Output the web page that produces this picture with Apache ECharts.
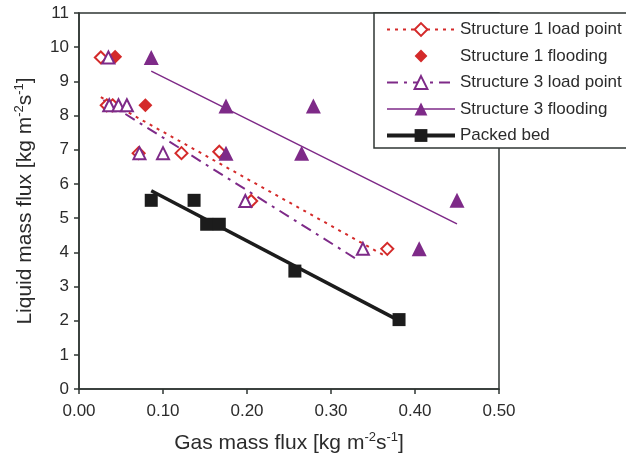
<!DOCTYPE html>
<html>
<head>
<meta charset="utf-8">
<script src="https://cdn.jsdelivr.net/npm/echarts@6/dist/echarts.min.js"></script>
<style>html,body{margin:0;padding:0;background:#fff}#c{width:626px;height:461px}</style>
</head>
<body>
<div id="c"></div>
<script>
// ---- Data ----
var seriesNames = ['Structure 1 load point', 'Structure 1 flooding', 'Structure 3 load point', 'Structure 3 flooding', 'Packed bed'];
var xTicks = [0, 0.1, 0.2, 0.3, 0.4, 0.5];
var yTicks = [0,1,2,3,4,5,6,7,8,9,10,11];

var s1LoadPts = [[0.026, 9.7], [0.033, 8.3], [0.040, 8.3], [0.071, 6.9], [0.122, 6.9], [0.167, 6.94], [0.205, 5.5], [0.367, 4.1]];
var s1FloodPts = [[0.043, 9.72], [0.079, 8.3]];
var s3LoadPts = [[0.035, 9.7], [0.036, 8.3], [0.047, 8.3], [0.057, 8.3], [0.072, 6.9], [0.100, 6.9], [0.198, 5.5], [0.338, 4.1]];
var s3FloodPts = [[0.086, 9.7], [0.175, 8.28], [0.175, 6.9], [0.265, 6.9], [0.279, 8.28], [0.405, 4.1], [0.450, 5.52]];
var packedPts = [[0.086, 5.52], [0.137, 5.52], [0.152, 4.82], [0.167, 4.82], [0.257, 3.45], [0.381, 2.03]];

var s1LoadTrend = [[0.026, 8.54], [0.366, 3.87]];
var s3LoadTrend = [[0.029, 8.45], [0.331, 3.79]];
var s3FloodTrend = [[0.086, 9.3], [0.450, 4.83]];
var packedTrend = [[0.086, 5.8], [0.381, 2.0]];

var RED = '#d42a2a', PURPLE = '#7e2a88', BLACK = '#1c1c1c', AX = '#2f3633', TXT = '#2b2b2b';
var FONT = 'Liberation Sans, Arial, sans-serif';

var chart = echarts.init(document.getElementById('c'), null, {renderer: 'canvas'});
var supRich = {
  n: {fontSize: 21, fontFamily: FONT, color: TXT, lineHeight: 24},
  sup: {fontSize: 13, fontFamily: FONT, color: TXT, verticalAlign: 'top', padding: [0, 0, 10, 0], lineHeight: 24}
};
function trendLine(name, data, color, type, width, symbol, lineOpacity) {
  return {
    name: name, type: 'line', data: data, symbol: symbol, showSymbol: false,
    symbolSize: 12, itemStyle: {color: color, opacity: 1},
    lineStyle: {color: color, type: type, width: width, opacity: lineOpacity == null ? 1 : lineOpacity},
    silent: true, z: 2, animation: false
  };
}
function pts(name, data, color, symbol, size) {
  return {
    name: name, type: 'scatter', data: data, symbol: symbol, symbolSize: size,
    itemStyle: {color: color, opacity: 1, borderColor: color, borderWidth: symbol.indexOf('empty') === 0 ? 2 : 0},
    z: 3, animation: false
  };
}

chart.setOption({
  animation: false,
  backgroundColor: '#fff',
  grid: {left: 79, top: 13, right: 127, bottom: 72, show: true, borderColor: AX, borderWidth: 1.5, containLabel: false},
  xAxis: {
    type: 'value', min: xTicks[0], max: xTicks[xTicks.length - 1], interval: 0.1,
    name: '{n|Gas mass flux [kg m}{sup|-2}{n|s}{sup|-1}{n|]}',
    nameLocation: 'middle', nameGap: 42,
    nameTextStyle: {rich: supRich},
    axisLine: {lineStyle: {color: AX, width: 1.5}},
    axisTick: {show: true, length: 5, lineStyle: {color: AX, width: 1.5}},
    splitLine: {show: false},
    axisLabel: {margin: 14, fontSize: 17, fontFamily: FONT, color: TXT, formatter: function (v) { return v.toFixed(2); }}
  },
  yAxis: {
    type: 'value', min: yTicks[0], max: yTicks[yTicks.length - 1], interval: 1,
    name: '{n|Liquid mass flux [kg m}{sup|-2}{n|s}{sup|-1}{n|]}',
    nameLocation: 'middle', nameGap: 42,
    nameTextStyle: {rich: supRich},
    axisLine: {lineStyle: {color: AX, width: 1.5}},
    axisTick: {show: true, length: 5, lineStyle: {color: AX, width: 1.5}},
    splitLine: {show: false},
    axisLabel: {margin: 10, fontSize: 17, fontFamily: FONT, color: TXT}
  },
  legend: {
    data: [
      {name: seriesNames[0], lineStyle: {width: 2}},
      {name: seriesNames[1], lineStyle: {width: 0, opacity: 0}},
      {name: seriesNames[2], lineStyle: {width: 2}},
      {name: seriesNames[3], lineStyle: {width: 1.5}},
      {name: seriesNames[4], lineStyle: {width: 4}}
    ],
    orient: 'vertical', left: 374, top: 13,
    padding: [8, 7, 4, 11], itemGap: 9.5, itemWidth: 68, itemHeight: 16,
    itemTextGap: 3,
    borderColor: AX, borderWidth: 1.5, backgroundColor: '#fff',
    textStyle: {fontSize: 17, fontFamily: FONT, color: TXT, lineHeight: 17},
    selectedMode: false
  },
  series: [
    trendLine(seriesNames[0], s1LoadTrend, RED, [3, 5], 2, 'emptyDiamond'),
    trendLine(seriesNames[1], [], RED, 'solid', 0, 'diamond', 0),
    trendLine(seriesNames[2], s3LoadTrend, PURPLE, [11, 6, 3, 6], 2, 'emptyTriangle'),
    trendLine(seriesNames[3], s3FloodTrend, PURPLE, 'solid', 1.5, 'triangle'),
    trendLine(seriesNames[4], packedTrend, BLACK, 'solid', 3.5, 'rect'),
    pts(seriesNames[0], s1LoadPts, RED, 'emptyDiamond', 12),
    pts(seriesNames[1], s1FloodPts, RED, 'diamond', 14),
    pts(seriesNames[2], s3LoadPts, PURPLE, 'emptyTriangle', 12),
    pts(seriesNames[3], s3FloodPts, PURPLE, 'triangle', 15),
    pts(seriesNames[4], packedPts, BLACK, 'rect', 13)
  ]
});
</script>
</body>
</html>
